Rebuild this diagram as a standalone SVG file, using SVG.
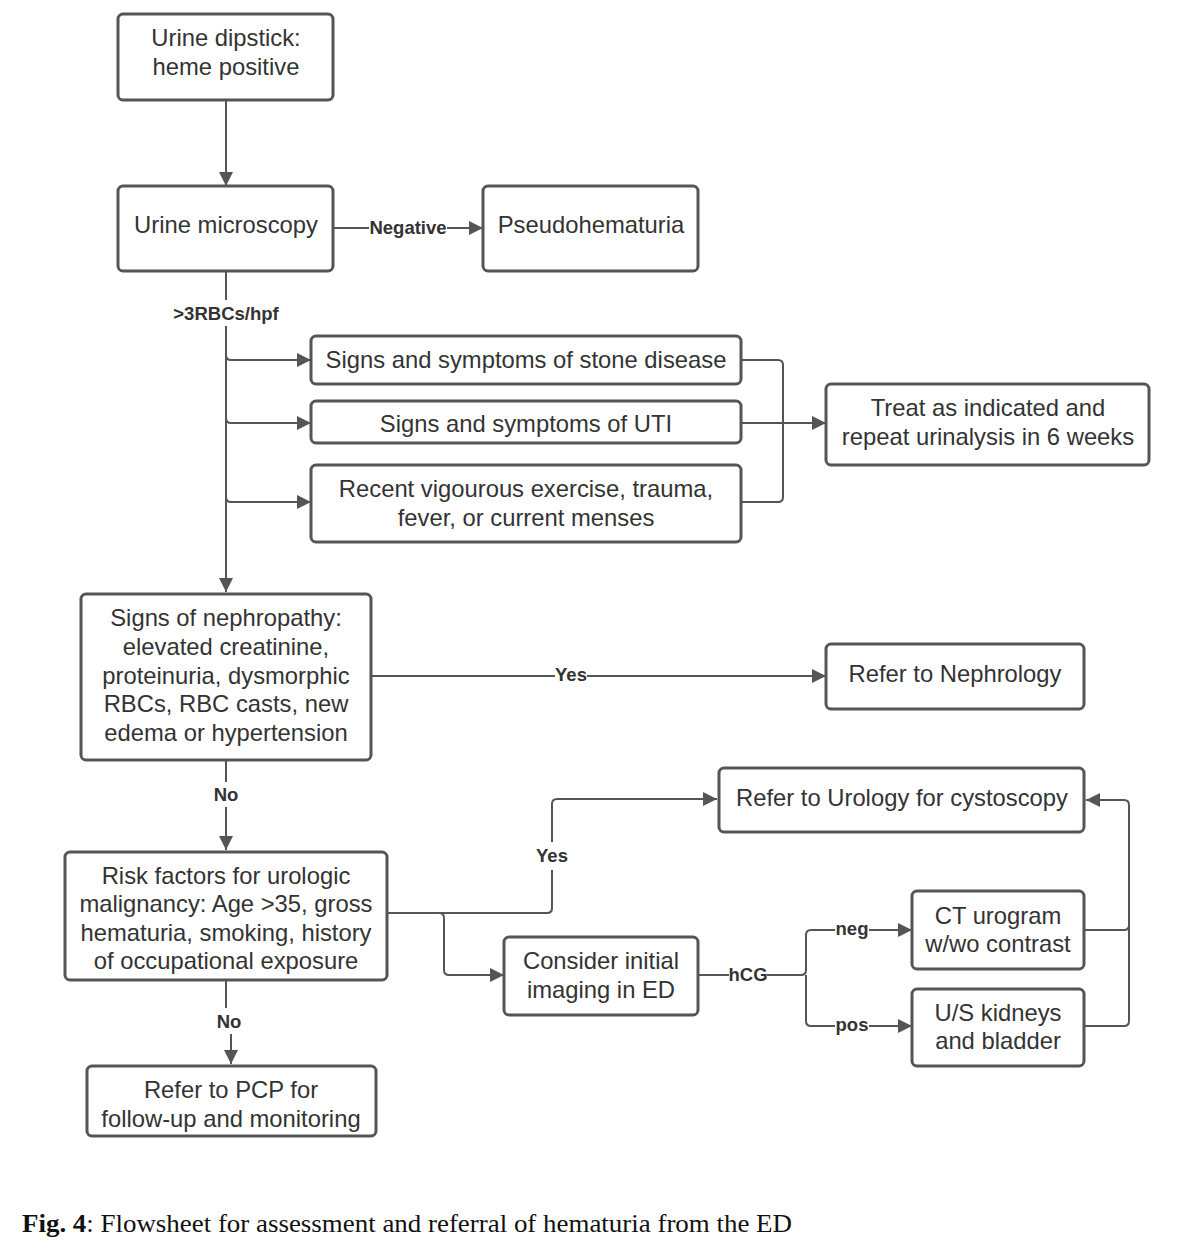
<svg xmlns="http://www.w3.org/2000/svg" width="1180" height="1248" viewBox="0 0 1180 1248">
<defs>
<marker id="ah" viewBox="0 0 10 10" refX="10" refY="5" markerWidth="18" markerHeight="14" markerUnits="userSpaceOnUse" orient="auto">
<path d="M0,0 L10,5 L0,10 z" fill="#555"/>
</marker>
<style>
.box{fill:#fff;stroke:#555;stroke-width:3}
.t{font-family:"Liberation Sans",Arial,sans-serif;font-size:23.8px;fill:#333;text-anchor:middle}
.lb{font-family:"Liberation Sans",Arial,sans-serif;font-size:18.5px;font-weight:bold;fill:#333;text-anchor:middle}
.c{fill:none;stroke:#555;stroke-width:2}
.a{marker-end:url(#ah)}
.cap{font-family:"Liberation Serif","Times New Roman",serif;font-size:25px;fill:#111}
</style>
</defs>
<rect width="1180" height="1248" fill="#fff"/>
<g id="connectors">
<path class="c a" d="M226,100 V186"/>
<path class="c" d="M333,228 H369"/>
<path class="c a" d="M447,228 H483"/>
<text class="lb" x="408" y="234">Negative</text>
<path class="c" d="M226,271 V300"/>
<text class="lb" x="226" y="320">&gt;3RBCs/hpf</text>
<path class="c a" d="M226,326 V592"/>
<path class="c a" d="M226,355 Q226,360 231,360 H311"/>
<path class="c a" d="M226,418 Q226,423 231,423 H311"/>
<path class="c a" d="M226,497 Q226,502 231,502 H311"/>
<path class="c" d="M741,360 H778 Q783,360 783,365 V497 Q783,502 778,502 H741"/>
<path class="c a" d="M741,423 H826"/>
<path class="c" d="M371,676 H555"/>
<path class="c a" d="M587,676 H826"/>
<text class="lb" x="571" y="681">Yes</text>
<path class="c" d="M226,760 V782"/>
<text class="lb" x="226" y="801">No</text>
<path class="c a" d="M226,807 V850"/>
<path class="c" d="M226,980 V1008"/>
<text class="lb" x="229" y="1028">No</text>
<path class="c a" d="M231,1034 V1064"/>
<path class="c" d="M387,913 H547 Q552,913 552,908 V870"/>
<text class="lb" x="552" y="862">Yes</text>
<path class="c a" d="M552,842 V804 Q552,799 557,799 H717"/>
<path class="c a" d="M439,913 Q444,913 444,918 V970 Q444,975 449,975 H504"/>
<path class="c" d="M698,975 H729"/>
<text class="lb" x="748" y="981">hCG</text>
<path class="c" d="M767,975 H801 Q806,975 806,970 V935 Q806,930 811,930 H835"/>
<text class="lb" x="852" y="935">neg</text>
<path class="c a" d="M869,930 H912"/>
<path class="c" d="M806,975 V1021 Q806,1026 811,1026 H835"/>
<text class="lb" x="852" y="1031">pos</text>
<path class="c a" d="M869,1026 H912"/>
<path class="c" d="M1084,930 H1124 Q1129,930 1129,925"/>
<path class="c a" d="M1084,1026 H1124 Q1129,1026 1129,1021 V805 Q1129,800 1124,800 H1086"/>
</g>
<g id="n1"><rect class="box" x="118" y="14" width="215" height="86" rx="5"/>
<text class="t" x="226" y="46">Urine dipstick:</text><text class="t" x="226" y="75">heme positive</text></g>
<g id="n2"><rect class="box" x="118" y="186" width="215" height="85" rx="5"/>
<text class="t" x="226" y="233">Urine microscopy</text></g>
<g id="n3"><rect class="box" x="483" y="186" width="215" height="85" rx="5"/>
<text class="t" x="591" y="233">Pseudohematuria</text></g>
<g id="n4"><rect class="box" x="311" y="336" width="430" height="48" rx="5"/>
<text class="t" x="526" y="368">Signs and symptoms of stone disease</text></g>
<g id="n5"><rect class="box" x="311" y="401" width="430" height="42" rx="5"/>
<text class="t" x="526" y="432">Signs and symptoms of UTI</text></g>
<g id="n6"><rect class="box" x="311" y="465" width="430" height="77" rx="5"/>
<text class="t" x="526" y="497">Recent vigourous exercise, trauma,</text><text class="t" x="526" y="526">fever, or current menses</text></g>
<g id="n7"><rect class="box" x="826" y="384" width="323" height="81" rx="5"/>
<text class="t" x="988" y="416">Treat as indicated and</text><text class="t" x="988" y="445">repeat urinalysis in 6 weeks</text></g>
<g id="n8"><rect class="box" x="81" y="594" width="290" height="166" rx="5"/>
<text class="t" x="226" y="626">Signs of nephropathy:</text>
<text class="t" x="226" y="655">elevated creatinine,</text>
<text class="t" x="226" y="684">proteinuria, dysmorphic</text>
<text class="t" x="226" y="712">RBCs, RBC casts, new</text>
<text class="t" x="226" y="741">edema or hypertension</text></g>
<g id="n9"><rect class="box" x="826" y="644" width="258" height="65" rx="5"/>
<text class="t" x="955" y="682">Refer to Nephrology</text></g>
<g id="n10"><rect class="box" x="65" y="852" width="322" height="128" rx="5"/>
<text class="t" x="226" y="884">Risk factors for urologic</text>
<text class="t" x="226" y="912">malignancy: Age &gt;35, gross</text>
<text class="t" x="226" y="941">hematuria, smoking, history</text>
<text class="t" x="226" y="969">of occupational exposure</text></g>
<g id="n11"><rect class="box" x="87" y="1066" width="289" height="70" rx="5"/>
<text class="t" x="231" y="1098">Refer to PCP for</text><text class="t" x="231" y="1127">follow-up and monitoring</text></g>
<g id="n12"><rect class="box" x="719" y="768" width="365" height="64" rx="5"/>
<text class="t" x="902" y="806">Refer to Urology for cystoscopy</text></g>
<g id="n13"><rect class="box" x="504" y="937" width="194" height="78" rx="5"/>
<text class="t" x="601" y="969">Consider initial</text><text class="t" x="601" y="998">imaging in ED</text></g>
<g id="n14"><rect class="box" x="912" y="891" width="172" height="78" rx="5"/>
<text class="t" x="998" y="924">CT urogram</text><text class="t" x="998" y="952">w/wo contrast</text></g>
<g id="n15"><rect class="box" x="912" y="989" width="172" height="77" rx="5"/>
<text class="t" x="998" y="1021">U/S kidneys</text><text class="t" x="998" y="1049">and bladder</text></g>
<text class="cap" x="22" y="1232" textLength="770" lengthAdjust="spacingAndGlyphs"><tspan font-weight="bold">Fig. 4</tspan>: Flowsheet for assessment and referral of hematuria from the ED</text>
</svg>
